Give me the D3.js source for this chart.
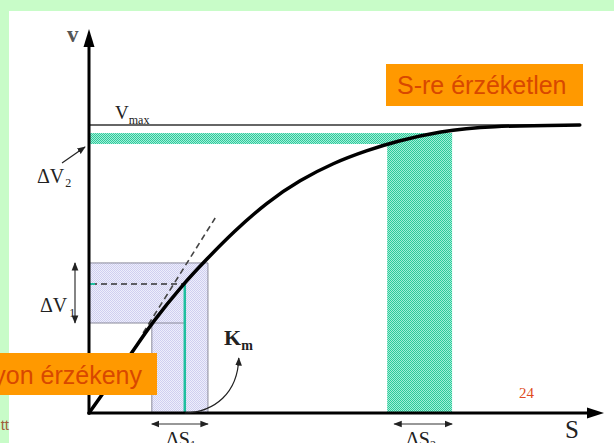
<!DOCTYPE html>
<html><head><meta charset="utf-8">
<script src="https://cdn.jsdelivr.net/npm/d3@7"></script>
<style>html,body{margin:0;padding:0;background:#c8fcc8;}svg{display:block;}</style>
</head><body>
<script>
// ---- data (S in arbitrary units, v as fraction of Vmax) ----
const curveS = [0, 0.83, 1.22, 1.81, 2.29, 2.80, 3.46, 4.10, 4.74, 5.40, 5.98, 6.82, 7.73, 9.53];
const curveV = [0, 0.208, 0.313, 0.444, 0.535, 0.628, 0.733, 0.809, 0.868, 0.912, 0.944, 0.978, 0.997, 1.0];
const vmax = 1.0;
const deltaS1 = [1.22, 2.31];
const deltaV1 = [0.3125, 0.521];
const deltaS2 = [5.79, 7.05];
const deltaV2 = [0.934, 0.972];
const kmS = 1.86, kmV = 0.448;
const tangentS = [1.05, 2.45];
const tangentV = [0.278, 0.677];
const axisMaxS = 10, axisMaxV = 1.333, vmaxLineEnd = 9.53;
const labels = {v: "v", s: "S", vmax: "V", vmaxSub: "max", dv: "ΔV", dv2: "2", dv1: "1",
  ds: "ΔS", ds1: "1", ds2: "2", km: "K", kmSub: "m", page: "24",
  boxRight: "S-re érzéketlen", boxLeft: "nagyon érzékeny", corner: "tt"};

const W = 614, H = 443;
const svg = d3.select("body").append("svg").attr("width", W).attr("height", H);
const defs = svg.append("defs");
const gp = defs.append("pattern").attr("id","greenHatch").attr("width",2).attr("height",2).attr("patternUnits","userSpaceOnUse");
gp.append("rect").attr("width",2).attr("height",2).attr("fill","#a2efd8");
gp.append("rect").attr("width",1).attr("height",1).attr("fill","#2ec99a");
gp.append("rect").attr("x",1).attr("y",1).attr("width",1).attr("height",1).attr("fill","#2ec99a");
const lp = defs.append("pattern").attr("id","lavHatch").attr("width",2).attr("height",2).attr("patternUnits","userSpaceOnUse");
lp.append("rect").attr("width",2).attr("height",2).attr("fill","#eeeefb");
lp.append("rect").attr("width",1).attr("height",1).attr("fill","#cfcff0");
lp.append("rect").attr("x",1).attr("y",1).attr("width",1).attr("height",1).attr("fill","#cfcff0");
defs.append("marker").attr("id","ah").attr("viewBox","0 0 10 10").attr("refX",9).attr("refY",5)
  .attr("markerWidth",7).attr("markerHeight",7).attr("orient","auto-start-reverse")
  .append("path").attr("d","M0,1 L10,5 L0,9 Z").attr("fill","#222");

// slide background
svg.append("rect").attr("width",W).attr("height",H).attr("fill","#c8fcc8");
svg.append("rect").attr("x",9).attr("y",11).attr("width",W-9).attr("height",H-11).attr("fill","#ffffff");

const x = d3.scaleLinear().domain([0, 10]).range([89, 604]);
const y = d3.scaleLinear().domain([0, 1]).range([413, 125]);

// lavender L-shaped region (ΔS1 / ΔV1)
const lav = d3.path();
lav.moveTo(x(0), y(deltaV1[1])); lav.lineTo(x(deltaS1[1]), y(deltaV1[1])); lav.lineTo(x(deltaS1[1]), y(0));
lav.lineTo(x(deltaS1[0]), y(0)); lav.lineTo(x(deltaS1[0]), y(deltaV1[0])); lav.lineTo(x(0), y(deltaV1[0])); lav.closePath();
svg.append("path").attr("d", lav.toString()).attr("fill","url(#lavHatch)").attr("stroke","#8a8a9a").attr("stroke-width",1);
svg.append("line").attr("x1",x(deltaS1[0])).attr("x2",x(kmS)).attr("y1",y(deltaV1[0])).attr("y2",y(deltaV1[0]))
  .attr("stroke","#8a8a9a").attr("stroke-width",1);

// green bands (ΔS2 / ΔV2)
svg.append("rect").attr("x",x(0)).attr("y",y(deltaV2[1])).attr("width",x(deltaS2[1])-x(0))
  .attr("height",y(deltaV2[0])-y(deltaV2[1])).attr("fill","url(#greenHatch)");
svg.append("rect").attr("x",x(deltaS2[0])).attr("y",y(deltaV2[1])).attr("width",x(deltaS2[1])-x(deltaS2[0]))
  .attr("height",y(0)-y(deltaV2[1])).attr("fill","url(#greenHatch)");

// Vmax line
svg.append("line").attr("x1",x(0)).attr("x2",x(vmaxLineEnd)).attr("y1",y(vmax)).attr("y2",y(vmax))
  .attr("stroke","#333").attr("stroke-width",1.3);

// Km: dashed horizontal and teal vertical
svg.append("line").attr("x1",x(0)+2).attr("x2",x(kmS)).attr("y1",y(kmV)).attr("y2",y(kmV))
  .attr("stroke","#333").attr("stroke-width",1.6).attr("stroke-dasharray","6,4");
svg.append("line").attr("x1",x(0)+1).attr("x2",x(0)+6).attr("y1",y(kmV)).attr("y2",y(kmV))
  .attr("stroke","#20c0a0").attr("stroke-width",2);
svg.append("line").attr("x1",x(kmS)).attr("x2",x(kmS)).attr("y1",y(kmV)).attr("y2",y(0))
  .attr("stroke","#1fbf9f").attr("stroke-width",2.5);

// tangent dashed line
svg.append("line").attr("x1",x(tangentS[0])).attr("y1",y(tangentV[0])).attr("x2",x(tangentS[1])).attr("y2",y(tangentV[1]))
  .attr("stroke","#444").attr("stroke-width",1.6).attr("stroke-dasharray","6,4");

// curve
const pts = curveS.map((s,i)=>[s, curveV[i]]);
svg.append("path").attr("d", d3.line().x(d=>x(d[0])).y(d=>y(d[1])).curve(d3.curveBasis)(pts))
  .attr("fill","none").attr("stroke","#000").attr("stroke-width",3.5).attr("stroke-linecap","round");

// axes with arrows
svg.append("line").attr("x1",x(0)).attr("x2",x(axisMaxS)-10).attr("y1",y(0)).attr("y2",y(0)).attr("stroke","#000").attr("stroke-width",3);
svg.append("line").attr("x1",x(0)).attr("x2",x(0)).attr("y1",y(0)+1.5).attr("y2",y(axisMaxV)+10).attr("stroke","#000").attr("stroke-width",3);
svg.append("path").attr("d",`M${x(axisMaxS)},${y(0)} L${x(axisMaxS)-17},${y(0)-5.5} L${x(axisMaxS)-17},${y(0)+5.5} Z`).attr("fill","#000");
svg.append("path").attr("d",`M${x(0)},${y(axisMaxV)} L${x(0)-5.5},${y(axisMaxV)+18} L${x(0)+5.5},${y(axisMaxV)+18} Z`).attr("fill","#000");

// double arrows
function dbl(x1,y1,x2,y2){
  svg.append("line").attr("x1",x1).attr("y1",y1).attr("x2",x2).attr("y2",y2).attr("stroke","#333").attr("stroke-width",1.2)
    .attr("marker-start","url(#ah)").attr("marker-end","url(#ah)");
}
dbl(x(deltaS1[0]), 424, x(deltaS1[1]), 424);
dbl(x(deltaS2[0])+7, 424, x(deltaS2[1]), 424);
dbl(75, y(deltaV1[1]), 75, y(deltaV1[0]));

// ΔV2 arrow
svg.append("line").attr("x1",62).attr("y1",163).attr("x2",x(0)-4).attr("y2",y(deltaV2[0])+3)
  .attr("stroke","#222").attr("stroke-width",1.2).attr("marker-end","url(#ah)");

// Km arrow (curved)
const kp = d3.path();
kp.moveTo(x(kmS), y(0)); kp.bezierCurveTo(x(kmS)+30, y(0)-1, x(kmS)+53, y(0)-20, x(kmS)+54, y(0)-55);
svg.append("path").attr("d", kp.toString()).attr("fill","none").attr("stroke","#222").attr("stroke-width",1.2).attr("marker-end","url(#ah)");

// text labels
const serif = "'Liberation Serif','Times New Roman',serif";
const sans = "'Liberation Sans',Arial,sans-serif";
function t(tx,ty,str,size,opt={}){
  const el = svg.append("text").attr("x",tx).attr("y",ty).attr("font-family",opt.family||serif)
    .attr("font-size",size).attr("fill",opt.fill||"#222").attr("font-weight",opt.weight||"normal")
    .attr("text-anchor",opt.anchor||"start");
  el.append("tspan").text(str);
  if (opt.sub) el.append("tspan").text(opt.sub).attr("font-size",opt.subSize||size*0.6).attr("dy",opt.subDy||5).attr("dx",opt.subDx||0);
  return el;
}
t(67,42,labels.v,23,{fill:"#555",weight:"bold"});
t(565,438,labels.s,25);
t(115,119,labels.vmax,19,{sub:labels.vmaxSub,subSize:12,subDy:5,subDx:0});
t(37,183,labels.dv,20,{sub:labels.dv2,subSize:12,subDy:4,subDx:1});
t(40,312,labels.dv,20,{sub:labels.dv1,subSize:12,subDy:5,subDx:2});
t(166,446,labels.ds,20,{sub:labels.ds1,subSize:12,subDy:3});
t(406,446,labels.ds,20,{sub:labels.ds2,subSize:12,subDy:3});
t(224,345,labels.km,22,{weight:"bold",sub:labels.kmSub,subSize:14,subDy:5});
t(519,398,labels.page,15,{fill:"#e04a20"});

// orange callout boxes
svg.append("rect").attr("x",386).attr("y",64).attr("width",197).attr("height",42).attr("fill","#ff9900");
t(397,94,labels.boxRight,25,{family:sans,fill:"#d84800"});
svg.append("rect").attr("x",0).attr("y",353).attr("width",157).attr("height",42).attr("fill","#ff9900");
t(142,384,labels.boxLeft,25,{family:sans,fill:"#d84800",anchor:"end"});
t(9,430,labels.corner,15,{family:sans,fill:"#a0603a",anchor:"end"});
</script>
</body></html>
